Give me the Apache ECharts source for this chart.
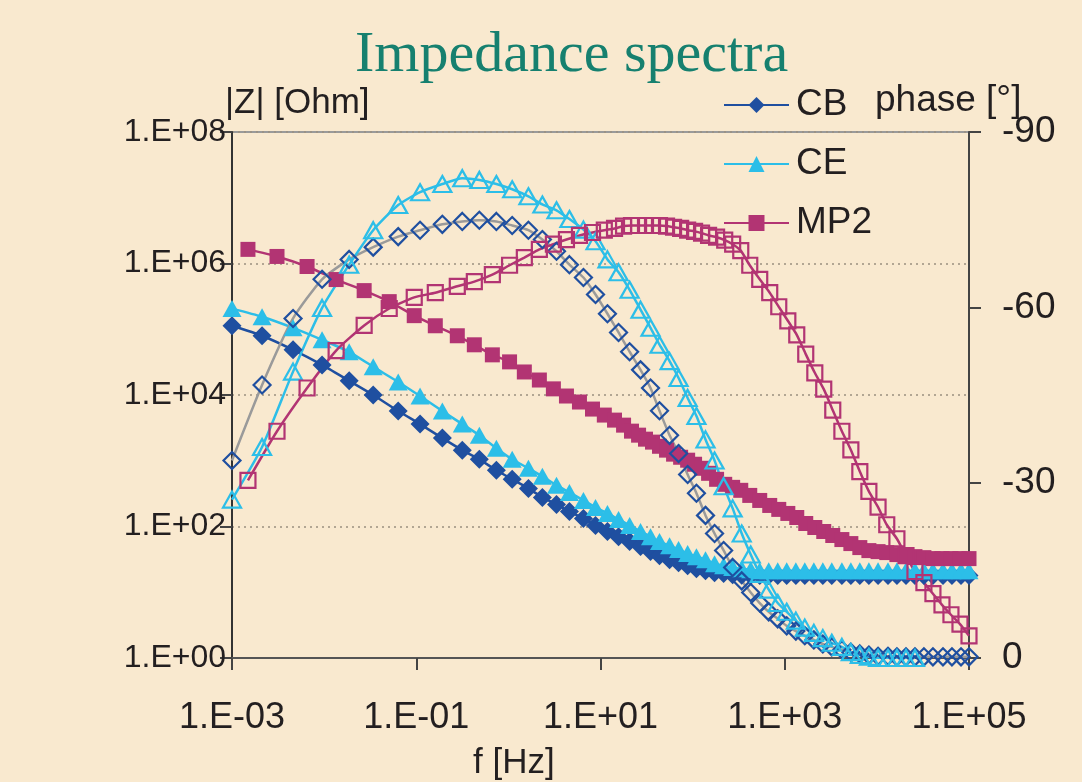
<!DOCTYPE html>
<html>
<head>
<meta charset="utf-8">
<script src="https://cdn.jsdelivr.net/npm/echarts@6/dist/echarts.min.js"></script>
<style>
  html, body { margin: 0; padding: 0; background: #F9E9CF; }
  #chart { width: 1082px; height: 782px; }
</style>
</head>
<body>
<div id="chart"></div>
<script>
/* Impedance spectra – |Z| (left, log) and phase (right) vs frequency (log) */

// ---- sweep frequencies [Hz] ----
const freqCB = [0.001, 0.00212, 0.0046, 0.0095, 0.0187, 0.0341, 0.0637, 0.110, 0.192, 0.316,
  0.484, 0.741, 1.10, 1.65, 2.34, 3.33, 4.60, 6.53, 8.83, 11.9,
  15.7, 20.7, 27.2, 34.9, 43.7, 56.2, 70.4, 88.3, 110, 138,
  173, 217, 272, 341, 427, 535, 670, 839, 1050, 1320,
  1650, 2070, 2590, 3240, 4170, 5220, 6530, 8190, 10300, 13200,
  16500, 20700, 25900, 32400, 40600, 52200, 65300, 81900, 100000];

const freqMP2 = [0.00149, 0.00308, 0.00653, 0.0135, 0.0272, 0.0509, 0.0951, 0.161, 0.279, 0.427,
  0.670, 1.03, 1.49, 2.17, 3.08, 4.27, 5.91, 8.19, 11.0, 14.2,
  17.8, 21.7, 25.9, 30.8, 36.7, 43.7, 52.1, 62.1, 74.1, 88.3,
  105, 125, 149, 182, 223, 272, 333, 417, 535, 687,
  861, 1080, 1350, 1690, 2120, 2650, 3320, 4170, 5220, 6530,
  8190, 10300, 12800, 16500, 20700, 25900, 32400, 40600, 50900, 63700,
  79800, 100000];

// ---- |Z| [Ohm] ----
const zCB = [113000, 79600, 48600, 28700, 16400, 10000, 5700, 3610, 2210, 1450,
  1050, 716, 522, 380, 277, 217, 169, 132, 104, 84,
  70, 59, 49.5, 41.5, 36, 31.3, 28.2, 25.4, 22.8, 21.3,
  19.8, 19.2, 18.5, 18.2, 18, 18, 18, 18, 18, 18,
  18, 18, 18, 18, 18, 18, 18, 18, 18, 18,
  18, 18, 18, 18, 18, 18, 18, 18, 18];

const zCE = [206000, 155000, 105000, 69100, 45300, 26800, 15800, 9650, 5700, 3610,
  2450, 1550, 1050, 768, 580, 423, 330, 249, 195, 158,
  128, 104, 84, 70, 59, 51, 44.6, 38.7, 34.8, 31.3,
  27.2, 25.4, 23.7, 22.8, 22.0, 21.3, 21.3, 21.3, 21.3, 21.3,
  21.3, 21.3, 21.3, 21.3, 21.3, 21.3, 21.3, 21.3, 21.3, 21.3,
  21.3, 21.3, 21.3, 21.3, 21.3, 21.3, 21.3, 21.3, 21.3];

const zMP2 = [1640000, 1280000, 900000, 570000, 387000, 263000, 161000, 113000, 79600, 58000,
  40800, 31900, 22400, 16900, 12400, 9650, 7820, 6110, 4950, 4150,
  3480, 2820, 2450, 2130, 1920, 1660, 1450, 1260, 1130, 1020,
  885, 768, 644, 522, 438, 394, 355, 297, 249, 209,
  182, 158, 137, 111, 96.6, 83.9, 72.9, 63.3, 55.0, 47.8,
  43.0, 41.5, 40.1, 37.4, 36.1, 34.8, 33.6, 32.5, 32.5, 32.5,
  32.5, 32.5];

// ---- phase [deg] ----
const phaseCB = [-33.8, -46.7, -58.1, -64.8, -68.2, -70.3, -72.1, -73.2, -74.2, -74.7,
  -74.9, -74.7, -74.0, -73.2, -71.6, -69.6, -67.3, -65.1, -62.2, -58.9,
  -55.7, -52.4, -49.3, -46.2, -42.3, -38.1, -35.0, -31.4, -28.2, -24.4,
  -21.3, -18.4, -15.5, -13.2, -11.2, -9.4, -7.9, -6.7, -5.5, -4.6,
  -3.8, -3.1, -2.4, -1.9, -1.4, -1.0, -0.7, -0.5, -0.3, -0.3,
  -0.2, -0.2, -0.2, -0.2, -0.2, -0.2, -0.2, -0.2, -0.2];

const phaseCE = [-27.1, -36.1, -49.0, -59.9, -67.3, -73.2, -77.5, -79.7, -81.1, -82.1,
  -81.8, -81.1, -80.2, -79.0, -77.6, -76.6, -75.1, -73.3, -71.3, -68.2,
  -66.0, -63.0, -59.6, -56.5, -53.6, -50.8, -47.9, -44.5, -41.4, -37.4,
  -33.8, -29.4, -25.6, -21.3, -17.7, -14.4, -11.7, -9.4, -7.9, -6.4,
  -5.2, -4.3, -3.4, -2.6, -1.9, -1.0, -0.5, -0.2, 0, 0,
  0, 0, 0, null, null, null, null, null, null];

const phaseMP2 = [-30.4, -38.8, -46.2, -52.6, -56.9, -59.8, -61.7, -62.5, -63.6, -64.4,
  -65.6, -67.2, -68.5, -69.9, -70.8, -71.6, -72.3, -72.8, -73.2, -73.5,
  -73.9, -74.0, -74.0, -74.0, -74.0, -74.0, -73.9, -73.7, -73.5, -73.2,
  -73.0, -72.7, -72.3, -72.0, -71.5, -70.8, -69.7, -67.2, -64.8, -62.5,
  -60.1, -57.7, -55.3, -52.0, -48.8, -46.0, -42.4, -38.8, -35.6, -31.9,
  -28.5, -25.8, -22.8, -20.4, -17.5, -14.8, -12.9, -11.0, -9.1, -7.4,
  -5.8, -3.8];

// ---- axis ticks ----
const freqTicks = [0.001, 0.1, 10, 1000, 100000];
const phaseTicks = [-90, -60, -30, 0];

const COLORS = {
  cb: "#1F4FA0",
  ce: "#2CBEE8",
  mp2: "#B23473",
  grayLine: "#9A9A9A",
  text: "#231F20",
};

function pair(freq, vals) {
  return freq.map((f, i) => [f, vals[i]]).filter(p => p[1] !== null);
}

function sciLabel(v) {
  const e = Math.round(Math.log10(v));
  const s = e < 0 ? "-" : "+";
  return "1.E" + s + String(Math.abs(e)).padStart(2, "0");
}

function zSeries(name, freq, vals, symbol, size, color) {
  return {
    name, type: "line", yAxisIndex: 0, data: pair(freq, vals),
    symbol, symbolSize: size, smooth: 0.2,
    lineStyle: { color, width: 2.5 },
    itemStyle: { color },
  };
}

function phaseSeries(name, freq, vals, symbol, size, color, lineColor) {
  return {
    name, type: "line", yAxisIndex: 1, data: pair(freq, vals),
    symbol, symbolSize: size, smooth: 0.2,
    lineStyle: { color: lineColor, width: 2.5 },
    itemStyle: { color: "rgba(0,0,0,0)", borderColor: color, borderWidth: 2.2 },
  };
}

const chart = echarts.init(document.getElementById("chart"), null, { renderer: "canvas" });

const SANS = "Liberation Sans, Arial, sans-serif";

chart.setOption({
  animation: false,
  backgroundColor: "#F9E9CF",
  title: {
    text: "Impedance spectra",
    left: 350, top: 22,
    textStyle: { fontFamily: "Liberation Serif, serif", fontWeight: "normal", fontSize: 58, color: "#16806F" },
  },
  grid: { left: 232, right: 113, top: 132, bottom: 124, show: true, borderColor: "#9A9A9A", borderWidth: 2 },
  legend: {
    data: ["CB", "CE", "MP2"],
    orient: "vertical", left: 718, top: 80,
    itemWidth: 65, itemHeight: 20, itemGap: 19,
    textStyle: { fontFamily: SANS, fontSize: 37, lineHeight: 40, color: COLORS.text, padding: [0, 0, 0, 2] },
  },
  graphic: [
    { type: "text", left: 225, top: 86, style: { text: "|Z| [Ohm]", font: "35px 'Liberation Sans', Arial, sans-serif", fill: COLORS.text } },
    { type: "text", left: 875, top: 82, style: { text: "phase [°]", font: "37px 'Liberation Sans', Arial, sans-serif", fill: COLORS.text } },
    { type: "text", left: 473, top: 746, style: { text: "f [Hz]", font: "35px 'Liberation Sans', Arial, sans-serif", fill: COLORS.text } },
  ],
  xAxis: {
    type: "log", logBase: 10, min: 0.001, max: 100000,
    axisLine: { lineStyle: { color: "#555", width: 2 } },
    axisTick: { show: true, length: 12, inside: false, customValues: freqTicks, lineStyle: { color: "#444", width: 2 } },
    axisLabel: { fontFamily: SANS, fontSize: 36, color: COLORS.text, margin: 42, customValues: freqTicks, formatter: sciLabel },
    minorTick: { show: false },
    splitLine: { show: false },
  },
  yAxis: [
    {
      type: "log", logBase: 100, min: 1, max: 100000000,
      axisLine: { show: true, lineStyle: { color: "#333", width: 2 } },
      axisTick: { show: true, length: 12, lineStyle: { color: "#444", width: 2 } },
      axisLabel: { fontFamily: SANS, fontSize: 32, color: COLORS.text, margin: 6, formatter: sciLabel, padding: [5, 0, 0, 0] },
      splitLine: { show: true, lineStyle: { type: [2, 4], color: "#9A9080", width: 1.5 } },
    },
    {
      type: "value", min: -90, max: 0, interval: 30, inverse: true, position: "right",
      axisLine: { show: true, lineStyle: { color: "#444", width: 2 } },
      axisTick: { show: true, length: 12, lineStyle: { color: "#444", width: 2 } },
      axisLabel: { fontFamily: SANS, fontSize: 37, color: COLORS.text, margin: 33, customValues: phaseTicks, padding: [6, 0, 0, 0] },
      splitLine: { show: false },
    },
  ],
  series: [
    zSeries("CB", freqCB, zCB, "diamond", 19, COLORS.cb),
    zSeries("CE", freqCB, zCE, "triangle", [19, 17], COLORS.ce),
    zSeries("MP2", freqMP2, zMP2, "rect", 15, COLORS.mp2),
    phaseSeries("CB phase", freqCB, phaseCB, "diamond", 17, COLORS.cb, COLORS.grayLine),
    phaseSeries("CE phase", freqCB, phaseCE, "triangle", [18, 16], COLORS.ce, COLORS.ce),
    phaseSeries("MP2 phase", freqMP2, phaseMP2, "rect", 15, COLORS.mp2, COLORS.mp2),
  ],
});

window.addEventListener("resize", () => chart.resize());
</script>
</body>
</html>
